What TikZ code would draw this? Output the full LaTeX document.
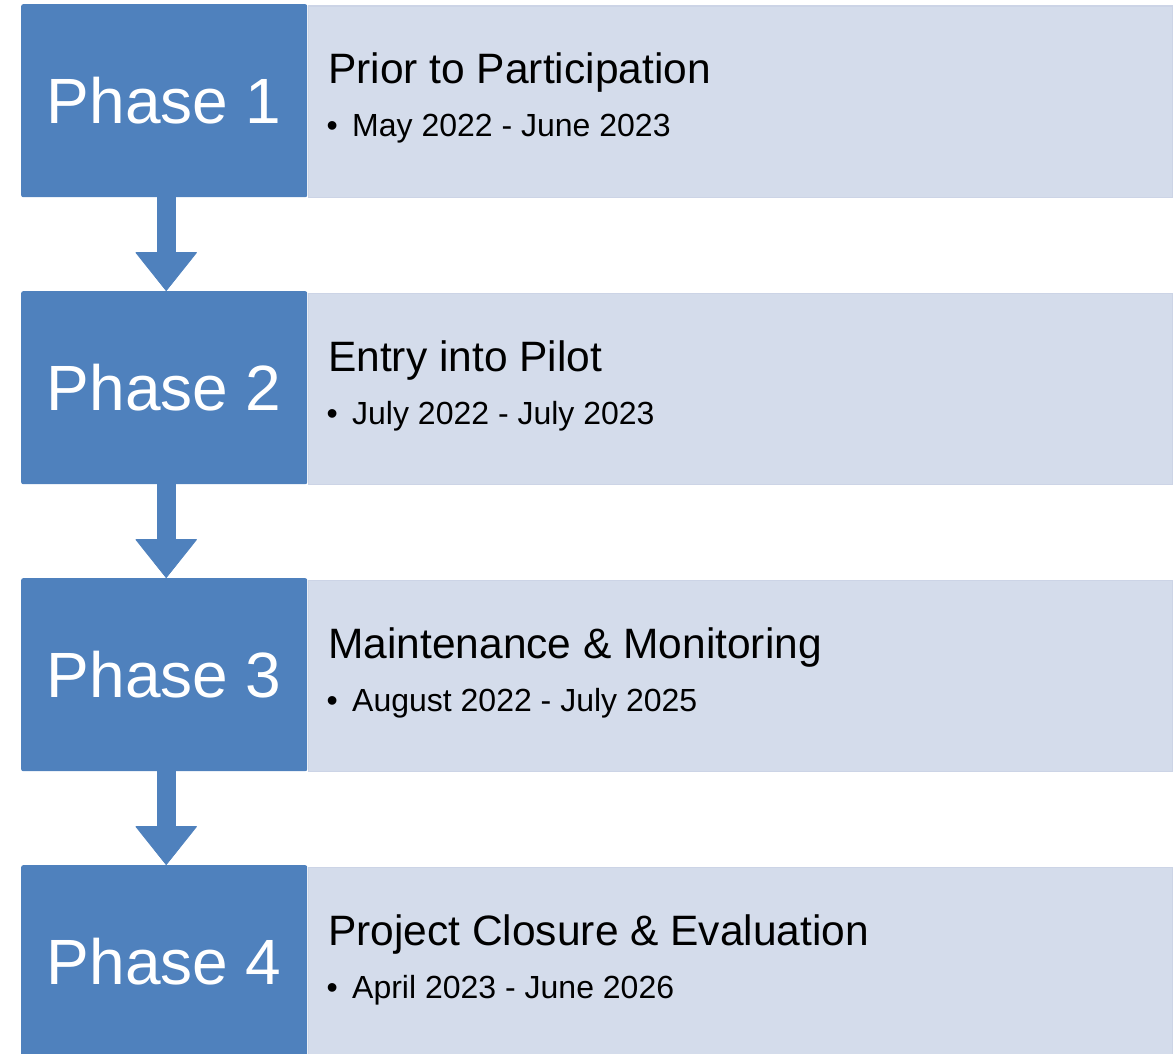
\documentclass[tikz,border=0pt]{standalone}
\usepackage{fontspec}
\setmainfont{Liberation Sans}
\usetikzlibrary{arrows.meta}
\definecolor{phaseblue}{RGB}{79,129,189}
\definecolor{panelfill}{RGB}{212,220,235}
\definecolor{panelline}{RGB}{204,212,230}
\begin{document}
\begin{tikzpicture}[x=1pt,y=-1pt,
  phasebox/.style={fill=phaseblue, rounded corners=2pt, minimum width=286pt, minimum height=193pt,
    inner sep=0pt, anchor=north west, text=white, font=\fontsize{64}{64}\selectfont},
  panel/.style={fill=panelfill, draw=panelline, line width=1.5pt, minimum width=864pt,
    minimum height=191pt, anchor=north west, inner sep=0pt},
  titletext/.style={anchor=base west, inner sep=0pt, font=\fontsize{42.5}{42.5}\selectfont},
  datetext/.style={anchor=base west, inner sep=0pt, font=\fontsize{32}{32}\selectfont},
  flowarrow/.style={draw=phaseblue, line width=19pt,
    -{Triangle[width=62pt,length=39pt,line width=0.8pt,round]}}]
\useasboundingbox (0,0) rectangle (1173,1054);
\clip (0,0) rectangle (1173,1054);
\foreach \i/\ttl/\dts in {1/{Prior to Participation}/{May 2022 - June 2023},
                          2/{Entry into Pilot}/{July 2022 - July 2023},
                          3/{Maintenance \& Monitoring}/{August 2022 - July 2025},
                          4/{Project Closure \& Evaluation}/{April 2023 - June 2026}}{
  \pgfmathsetmacro{\top}{4+287*(\i-1)}
  \node[panel] (n\i) at (307.5,\top+1.5) {};
  \node[phasebox] (p\i) at (21,\top) {Phase \i};
  \node[titletext] (t\i) at (328,\top+80) {\ttl};
  \node[datetext] (b\i) at (326.5,\top+133) {•};
  \node[datetext] (d\i) at (352,\top+133) {\dts};
}
\foreach \i/\j in {1/2,2/3,3/4}
  \draw[flowarrow] ([xshift=2pt]p\i.south) -- ([xshift=2pt]p\j.north);
\end{tikzpicture}
\end{document}
